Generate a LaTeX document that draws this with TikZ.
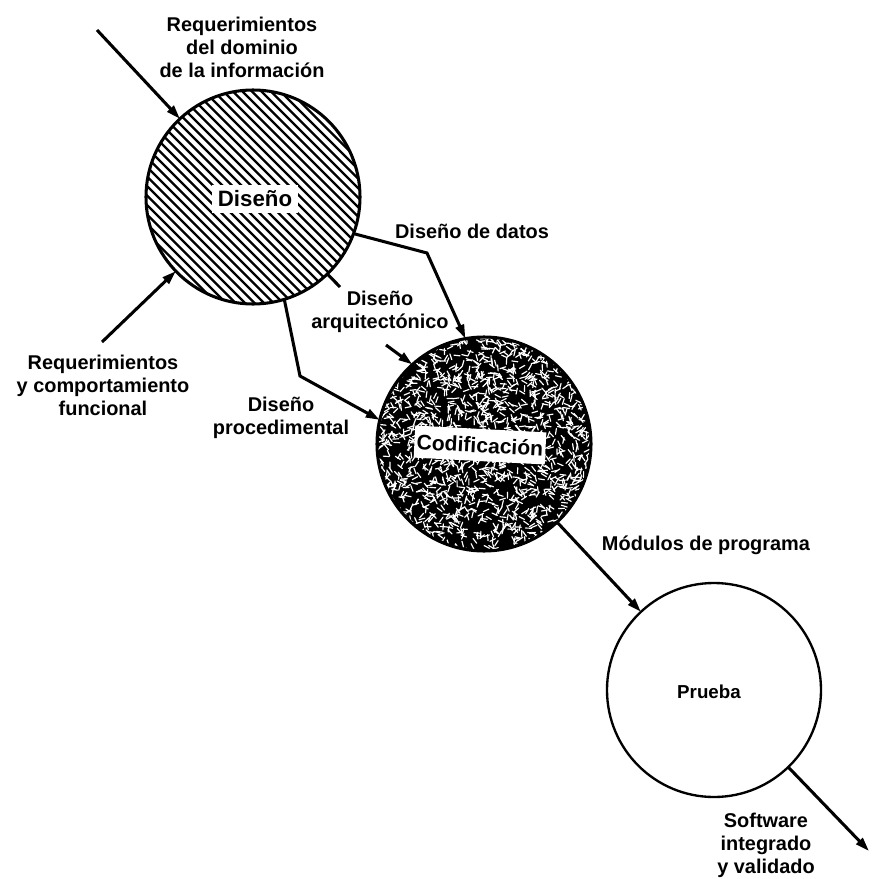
\documentclass[tikz,border=0pt]{standalone}
\usepackage{fontspec}
\setmainfont{Liberation Sans}
\usetikzlibrary{arrows.meta}
\begin{document}
\begin{tikzpicture}[x=0.3mm,y=-0.3mm,
  conn/.style={line width=2.6pt, line join=miter, -{Triangle[length=4.2mm,width=2.6mm]}},
  seg/.style={line width=2.6pt},
  lbl/.style={align=center, inner sep=0pt, font=\fontsize{17}{19.6}\selectfont\bfseries},
  phase/.style={circle, minimum size=64.2mm, inner sep=0pt, outer sep=0pt},
  boxlbl/.style={fill=white, inner xsep=5pt, inner ysep=5pt, font=\fontsize{19}{22}\selectfont\bfseries}
  ]
\useasboundingbox (0,0) rectangle (871,879);
% phases
\node[phase, draw, line width=2.6pt, path picture={
   \begin{scope}[shift={(path picture bounding box.center)}]
   \foreach \k in {-26,...,26}{\draw[line width=2.1pt] (\k*9.5-120,-120) -- (\k*9.5+120,120);}
   \end{scope}}] (dis) at (253,197) {};
\node[phase, draw, line width=2.6pt, path picture={
   \fill[black] (path picture bounding box.south west) rectangle (path picture bounding box.north east);
   \begin{scope}[shift={(path picture bounding box.center)}]
   \pgfmathsetseed{11}
   \foreach \i in {1,...,1800}{
     \pgfmathsetmacro{\rx}{214*rnd-107}
     \pgfmathsetmacro{\ry}{214*rnd-107}
     \pgfmathsetmacro{\ra}{360*rnd}
     \draw[white, line width=1pt, line cap=round] (\rx,\ry) -- ++(\ra:6);
   }
   \end{scope}}] (cod) at (484,444) {};
\node[phase, draw, line width=2pt] (pru) at (714,690) {};
% phase names
\node[boxlbl] (disl) at (255,199) {Diseño};
\node[boxlbl, inner xsep=2pt, inner ysep=7pt, font=\fontsize{18}{20}\selectfont\bfseries, rotate=-3] (codl) at (480,445) {Codificación};
\node[lbl, font=\fontsize{16}{19}\selectfont\bfseries] (prul) at (709,692) {Prueba};
% connectors
\coordinate (s1) at (97,30);
\draw[conn] (s1) -- (dis);
\coordinate (s2) at (102,342);
\draw[conn] (s2) -- (dis);
\coordinate (b1) at (427,253);
\draw[conn] (dis.-20) -- (b1) -- (cod.100);
\coordinate (a1) at (340,287);
\draw[seg] (dis.-46) -- (a1);
\coordinate (a2) at (386,345);
\draw[conn] (a2) -- (cod.132);
\coordinate (b2) at (300,376);
\draw[conn] (dis.-73) -- (b2) -- (cod.167);
\draw[conn] (cod) -- (pru);
\coordinate (e1) at (869,851);
\draw[conn] (pru) -- (e1);
% labels
\node[lbl] (t1) at (242,47) {Requerimientos\\del dominio\\de la información};
\node[lbl] (t2) at (103,385) {Requerimientos\\y comportamiento\\funcional};
\node[lbl] (t3) at (472,231) {Diseño de datos};
\node[lbl] (t4) at (380,312) {Diseño\\arquitectónico};
\node[lbl] (t5) at (281,418) {Diseño\\procedimental};
\node[lbl] (t6) at (706,545) {Módulos de programa};
\node[lbl] (t7) at (766,845) {Software\\integrado\\y validado};
\end{tikzpicture}
\end{document}
